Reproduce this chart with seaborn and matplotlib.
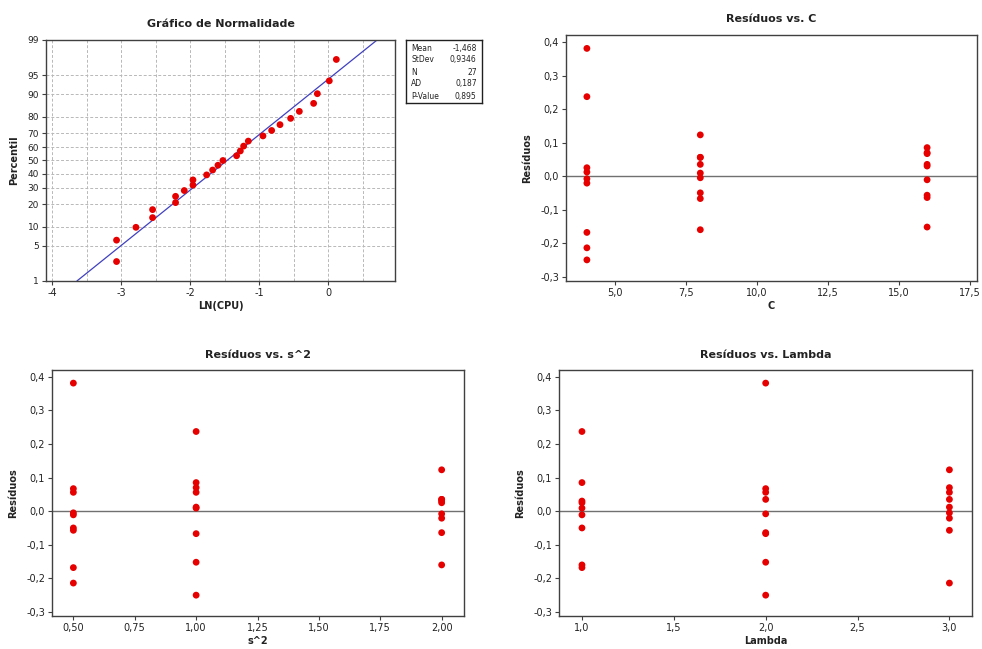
import numpy as np
import pandas as pd
import matplotlib
matplotlib.use("Agg")
import matplotlib.pyplot as plt
from matplotlib.ticker import FuncFormatter, FixedLocator, MultipleLocator
import seaborn as sns
from statistics import NormalDist

# ---------------- data ----------------
ln_cpu = [-3.068, -3.068, -2.787, -2.546, -2.546, -2.213, -2.213, -2.087, -1.961,
          -1.961, -1.763, -1.676, -1.599, -1.527, -1.329, -1.275, -1.227, -1.159,
          -0.947, -0.821, -0.700, -0.546, -0.420, -0.213, -0.159, 0.014, 0.116]
pct_ticks = [1, 5, 10, 20, 30, 40, 50, 60, 70, 80, 90, 95, 99]
stats_labels = ["Mean", "StDev", "N", "AD", "P-Value"]
stats_values = ["-1,468", "0,9346", "27", "0,187", "0,895"]
fit_mean = -1.468
fit_sd = 0.9346

C_vals = [4, 4, 4, 4, 4, 4, 4, 4, 4,
          8, 8, 8, 8, 8, 8, 8, 8, 8,
          16, 16, 16, 16, 16, 16, 16, 16, 16]
s2_vals = [0.5, 1, 1, 0.5, 0.5, 1, 2, 2, 2,
           2, 2, 2, 1, 1, 1, 0.5, 0.5, 0.5,
           1, 1, 1, 2, 2, 2, 0.5, 0.5, 0.5]
lam_vals = [2, 1, 2, 3, 1, 3, 1, 2, 3,
            3, 1, 2, 1, 2, 3, 1, 2, 3,
            1, 2, 3, 1, 2, 3, 1, 2, 3]
residuos = [0.381, 0.237, -0.250, -0.214, -0.168, 0.012, 0.025, -0.008, -0.021,
            0.123, -0.160, 0.035, 0.009, -0.067, 0.056, -0.050, 0.056, -0.005,
            0.085, -0.152, 0.070, 0.030, -0.064, 0.035, -0.011, 0.067, -0.057]

# ---------------- style ----------------
sns.set_style("white")
plt.rcParams['font.family'] = ['DejaVu Sans']
plt.rcParams['axes.unicode_minus'] = False

RED = '#e60000'
SPINE = '#404040'
TXT = '#222222'
W, H = 982, 649


def rect(x0, y0, x1, y1):
    return [x0 / W, 1 - y1 / H, (x1 - x0) / W, (y1 - y0) / H]


def comma(fmt):
    return FuncFormatter(lambda v, p: (fmt % v).replace('.', ','))


def style_axes(ax):
    for s in ax.spines.values():
        s.set_color(SPINE)
        s.set_linewidth(1.0)
    ax.tick_params(bottom=True, left=True, direction='out', length=3, width=0.8,
                   colors=SPINE, labelcolor=TXT, labelsize=7, pad=2)


fig = plt.figure(figsize=(W / 100, H / 100), dpi=100)
fig.patch.set_facecolor('white')

# ---------------- normal probability plot ----------------
nd = NormalDist()
ax1 = fig.add_axes(rect(46, 40, 395, 281))
n = len(ln_cpu)
xs = np.sort(np.array(ln_cpu))
ranks = np.arange(1, n + 1)
zs = np.array([nd.inv_cdf((i - 0.3) / (n + 0.4)) for i in ranks])
df_norm = pd.DataFrame({'x': xs, 'z': zs})

zlo, zhi = nd.inv_cdf(0.01), nd.inv_cdf(0.99)
line_df = pd.DataFrame({'x': [fit_mean + fit_sd * zlo, fit_mean + fit_sd * zhi],
                        'z': [zlo, zhi]})
ax1.plot(line_df['x'], line_df['z'], color='#4040c0', lw=0.9, zorder=2)
sns.scatterplot(data=df_norm, x='x', y='z', ax=ax1, color=RED, s=24,
                edgecolor='none', linewidth=0, zorder=3)
ax1.set_xlim(-4.09, 0.966)
ax1.set_ylim(zlo, zhi)
ax1.yaxis.set_major_locator(FixedLocator([nd.inv_cdf(p / 100) for p in pct_ticks]))
ax1.set_yticklabels([str(p) for p in pct_ticks])
ax1.xaxis.set_major_locator(FixedLocator([-4, -3, -2, -1, 0]))
ax1.xaxis.set_major_formatter(FuncFormatter(lambda v, p: '%d' % round(v)))
ax1.xaxis.set_minor_locator(MultipleLocator(0.5))
ax1.grid(True, which='major', axis='y', color='#b8b8b8', lw=0.7, ls=(0, (3, 2)))
ax1.grid(True, which='both', axis='x', color='#b8b8b8', lw=0.7, ls=(0, (3, 2)))
ax1.set_axisbelow(True)
style_axes(ax1)
ax1.tick_params(axis='x', which='minor', length=0)
ax1.tick_params(axis='y', labelsize=6.5)
ax1.set_title('Gráfico de Normalidade', fontsize=8, fontweight='bold', color=TXT, pad=9)
ax1.set_xlabel('LN(CPU)', fontsize=7, fontweight='bold', color=TXT, labelpad=2)
ax1.set_ylabel('Percentil', fontsize=7, fontweight='bold', color=TXT, labelpad=6)

# stats box
axl = fig.add_axes(rect(406, 40, 482, 103))
axl.set_xticks([])
axl.set_yticks([])
for s in axl.spines.values():
    s.set_color('#202020')
    s.set_linewidth(1.0)
row_y = [0.873, 0.683, 0.492, 0.302, 0.11]
for lab, val, yy in zip(stats_labels, stats_values, row_y):
    axl.text(0.07, yy, lab, fontsize=5.5, color=TXT, ha='left', va='center',
             transform=axl.transAxes)
    axl.text(0.93, yy, val, fontsize=5.5, color=TXT, ha='right', va='center',
             transform=axl.transAxes)

# ---------------- residual plots ----------------
df = pd.DataFrame({'C': C_vals, 's^2': s2_vals, 'Lambda': lam_vals,
                   'Resíduos': residuos})

panels = [
    ('C', rect(566, 35, 977, 281), (3.263, 17.76), np.arange(5.0, 17.6, 2.5), '%.1f',
     'Resíduos vs. C', (-0.313, 0.421)),
    ('s^2', rect(52, 370, 464, 616), (0.413, 2.091), np.arange(0.5, 2.01, 0.25), '%.2f',
     'Resíduos vs. s^2', (-0.312, 0.420)),
    ('Lambda', rect(559, 370, 972, 616), (0.875, 3.123), np.arange(1.0, 3.01, 0.5), '%.1f',
     'Resíduos vs. Lambda', (-0.312, 0.420)),
]

for col, r, xl, xt, fmt, title, yl in panels:
    ax = fig.add_axes(r)
    ax.axhline(0, color='#707070', lw=1.0, zorder=1)
    sns.scatterplot(data=df, x=col, y='Resíduos', ax=ax, color=RED, s=24,
                    edgecolor='none', linewidth=0, zorder=3)
    ax.set_xlim(*xl)
    ax.set_ylim(*yl)
    ax.xaxis.set_major_locator(FixedLocator(list(xt)))
    ax.xaxis.set_major_formatter(comma(fmt))
    ax.yaxis.set_major_locator(FixedLocator([-0.3, -0.2, -0.1, 0.0, 0.1, 0.2, 0.3, 0.4]))
    ax.yaxis.set_major_formatter(comma('%.1f'))
    style_axes(ax)
    ax.set_title(title, fontsize=8, fontweight='bold', color=TXT, pad=9)
    ax.set_xlabel(col, fontsize=7, fontweight='bold', color=TXT, labelpad=2)
    ax.set_ylabel('Resíduos', fontsize=7, fontweight='bold', color=TXT, labelpad=6)

fig.savefig('out.png', dpi=100, facecolor='white')
